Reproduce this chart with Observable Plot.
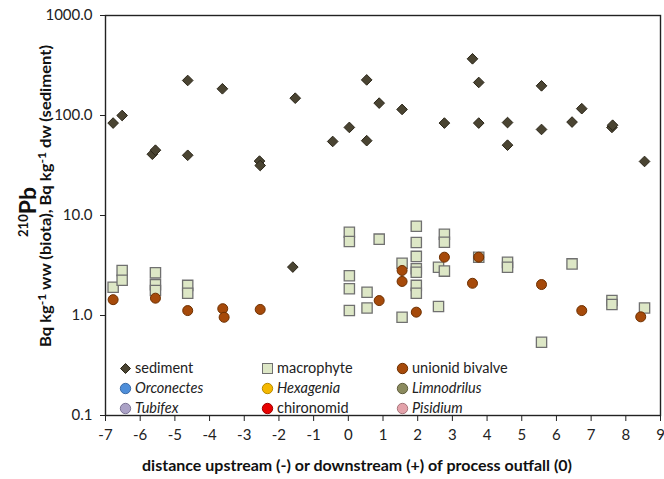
<!DOCTYPE html>
<html>
<head>
<meta charset="utf-8">
<script src="https://cdn.jsdelivr.net/npm/d3@7"></script>
<script src="https://cdn.jsdelivr.net/npm/@observablehq/plot@0.6"></script>
<style>
  html, body { margin: 0; padding: 0; background: #fff; }
  #wrap { position: relative; width: 664px; height: 479px; font-family: Lato, "Open Sans", sans-serif; color: #222; }
  #legend { position: absolute; left: 119px; top: 358px; font-size: 14.5px; line-height: 20px; }
  .row { display: flex; height: 20px; align-items: center; }
  .item { display: flex; align-items: center; }
  .item svg { margin-right: 3px; }
  .it { font-style: italic; }
</style>
</head>
<body>
<div id="wrap"></div>
<script>
// ---- data ----
const xTicks = [-7,-6,-5,-4,-3,-2,-1,0,1,2,3,4,5,6,7,8,9];
const yTicks = [0.1, 1, 10, 100, 1000];

const sedimentX = [-6.78,-6.52,-5.65,-5.56,-4.63,-4.63,-3.63,-2.56,-2.54,-1.6,-1.53,-0.45,0.03,0.53,0.53,0.89,1.55,2.77,3.58,3.76,3.76,4.59,4.59,5.57,5.57,6.45,6.73,7.6,7.62,8.54];
const sedimentY = [84,100,41,45,224,40,185,35,31.6,3.05,149,55,76,227,56,133,115,84,369,214,84,85,50.5,198,72.5,86,117,76,80,34.7];

const macroX = [-6.78,-6.52,-6.52,-5.56,-5.56,-5.56,-4.63,-4.63,0.03,0.03,0.03,0.03,0.03,0.54,0.54,0.89,1.55,1.55,1.96,1.96,1.96,1.96,1.96,1.96,1.96,2.6,2.6,2.77,2.77,2.77,3.76,4.59,4.59,5.57,6.45,7.6,7.6,8.54];
const macroY = [1.92,2.82,2.25,2.67,2.03,1.78,2.0,1.67,6.8,5.5,2.5,1.85,1.12,1.71,1.19,5.8,3.33,0.96,7.8,5.37,3.9,2.93,2.71,2.0,1.67,3.04,1.23,6.5,5.4,2.78,3.83,3.4,3.04,0.54,3.28,1.41,1.29,1.19];

const unionidX = [-6.78,-5.56,-4.63,-3.62,-3.58,-2.54,0.89,1.55,1.55,1.96,2.77,3.58,3.76,5.57,6.73,8.43];
const unionidY = [1.44,1.49,1.12,1.17,0.96,1.15,1.41,2.82,2.19,1.08,3.83,2.1,3.83,2.04,1.12,0.97];

const legendNames = ["sediment","macrophyte","unionid bivalve","Orconectes","Hexagenia","Limnodrilus","Tubifex","chironomid","Pisidium"];
const legendItalic = [false,false,false,true,true,true,true,false,true];
const legendSymbols = ["diamond","square","circle","circle","circle","circle","circle","circle","circle"];
const legendFill = ["#4a4432","#dde7c6","#a64a0a","#4e8ed9","#f4b800","#8b8a5e","#aba2c6","#e80000","#e3a2aa"];
const legendStroke = ["#2b2619","#707070","#6e3000","#3d6da8","#b88a00","#5f5e3d","#7d7596","#a00000","#a8767c"];

// ---- build tables ----
const sediment = sedimentX.map((x,i)=>({x, y: sedimentY[i]}));
const macro = macroX.map((x,i)=>({x, y: macroY[i]}));
const unionid = unionidX.map((x,i)=>({x, y: unionidY[i]}));

const plot = Plot.plot({
  width: 664, height: 479,
  marginLeft: 105, marginRight: 4, marginTop: 15, marginBottom: 64,
  style: { fontFamily: "Lato, 'Open Sans', sans-serif", fontSize: "15px", color: "#222", background: "white", overflow: "visible" },
  x: { domain: [-7, 9], ticks: xTicks, tickFormat: d => String(d), label: null, tickSize: 6, tickPadding: 8 },
  y: { type: "log", domain: [0.1, 1000], ticks: yTicks, tickFormat: d3.format(".1f"), label: null, tickSize: 5, tickPadding: 8 },
  marks: [
    Plot.frame({ stroke: "#222", strokeWidth: 1.4 }),
    Plot.dot(sediment, { x: "x", y: "y", symbol: "diamond2", r: 4.8, fill: legendFill[0], stroke: legendStroke[0], strokeWidth: 1 }),
    Plot.dot(macro, { x: "x", y: "y", symbol: "square", r: 5.8, fill: legendFill[1], stroke: legendStroke[1], strokeWidth: 1.3 }),
    Plot.dot(unionid, { x: "x", y: "y", symbol: "circle", r: 5, fill: legendFill[2], stroke: legendStroke[2], strokeWidth: 1 })
  ]
});

const wrap = document.getElementById("wrap");
wrap.appendChild(plot);

// axis titles
const svg = d3.select(plot);
svg.append("text")
  .attr("transform", "translate(357,471)")
  .attr("text-anchor", "middle")
  .attr("font-weight", "bold").attr("font-size", 16).attr("fill", "#111")
  .attr("textLength", 430).attr("lengthAdjust", "spacingAndGlyphs")
  .text("distance upstream (-) or downstream (+) of process outfall (0)");

const t1 = svg.append("text")
  .attr("transform", "translate(36,212) rotate(-90)")
  .attr("text-anchor", "middle").attr("fill", "#111").attr("font-weight", "bold");
t1.append("tspan").attr("font-size", 13).attr("dy", -8).text("210");
t1.append("tspan").attr("font-size", 23).attr("dy", 8).text("Pb");

const t2 = svg.append("text")
  .attr("transform", "translate(51,196) rotate(-90)")
  .attr("text-anchor", "middle").attr("fill", "#111").attr("font-weight", "bold").attr("font-size", 15)
  .attr("textLength", 302).attr("lengthAdjust", "spacingAndGlyphs");
t2.append("tspan").text("Bq kg");
t2.append("tspan").attr("font-size", 11).attr("dy", -5).text("-1");
t2.append("tspan").attr("dy", 5).text(" ww (biota), Bq kg");
t2.append("tspan").attr("font-size", 11).attr("dy", -5).text("-1");
t2.append("tspan").attr("dy", 5).text(" dw (sediment)");

// legend
const legend = d3.select(wrap).append("div").attr("id", "legend");
const colWidths = [142, 135, 150];
for (let r = 0; r < 3; r++) {
  const row = legend.append("div").attr("class", "row");
  for (let c = 0; c < 3; c++) {
    const i = r * 3 + c;
    const it = row.append("div").attr("class", "item").style("width", colWidths[c] + "px");
    const s = it.append("svg").attr("width", 13).attr("height", 13);
    const sym = legendSymbols[i];
    if (sym === "diamond") {
      s.append("path").attr("d", "M6.5,1.5 L11.5,6.5 L6.5,11.5 L1.5,6.5Z");
    } else if (sym === "square") {
      s.append("rect").attr("x", 1.5).attr("y", 1.5).attr("width", 10).attr("height", 10);
    } else {
      s.append("circle").attr("cx", 6.5).attr("cy", 6.5).attr("r", 5.2);
    }
    s.select(":first-child").attr("fill", legendFill[i]).attr("stroke", legendStroke[i]).attr("stroke-width", 1);
    it.append("span").attr("class", legendItalic[i] ? "it" : null).text(legendNames[i]);
  }
}
</script>
</body>
</html>
